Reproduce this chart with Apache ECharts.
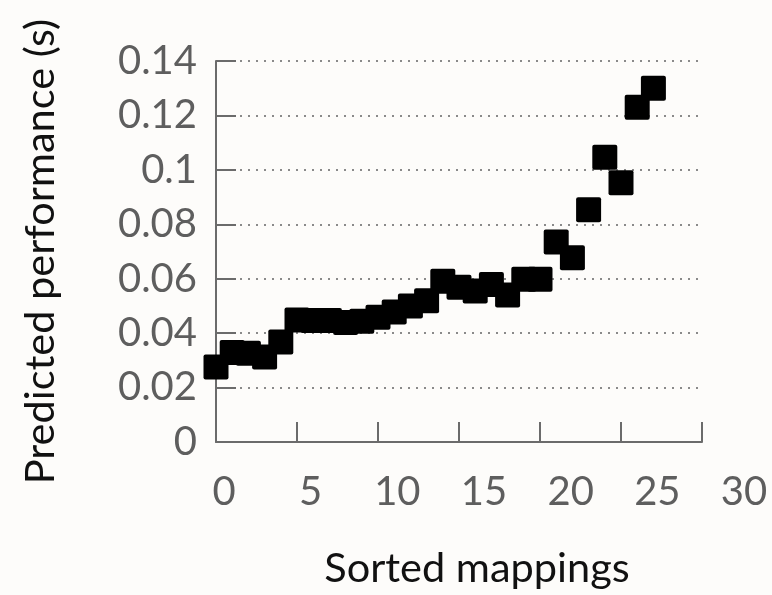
<!DOCTYPE html>
<html>
<head>
<meta charset="utf-8">
<script src="https://cdn.jsdelivr.net/npm/echarts@6/dist/echarts.min.js"></script>
<style>
html,body{margin:0;padding:0;background:#fdfcfa;}
#chart{width:772px;height:595px;}
</style>
</head>
<body>
<div id="chart"></div>
<script>
const mappingIndex = [0,1,2,3,4,5,6,7,8,9,10,11,12,13,14,15,16,17,18,19,20,21,22,23,24,25,26,27];
const predictedPerf = [0.0276,0.0329,0.0326,0.0312,0.0367,0.0448,0.0446,0.0446,0.0439,0.0444,0.0458,0.0478,0.0500,0.0519,0.0591,0.0569,0.0555,0.0579,0.0540,0.0598,0.0598,0.0735,0.0677,0.0853,0.1046,0.0953,0.1230,0.1300];
const xTicks = {min:0, max:30, interval:5};
const yTicks = {min:0, max:0.14, interval:0.02};

const FONT = 'Lato';
const AXIS_GRAY = '#6b6b6b';
const SQUARE = 'path://M2,0 H23 Q25,0 25,2 V23 Q25,25 23,25 H2 Q0,25 0,23 V2 Q0,0 2,0 Z';
const chart = echarts.init(document.getElementById('chart'), null, {renderer:'canvas'});
chart.setOption({
  backgroundColor:'#fdfcfa',
  animation:false,
  grid:[
    {left:216, right:70, top:61, bottom:153},
    {left:224, right:28, top:61, bottom:153}
  ],
  xAxis:[{
    type:'value', gridIndex:0, min:xTicks.min, max:xTicks.max, interval:xTicks.interval,
    axisLine:{show:true, onZero:false, lineStyle:{color:AXIS_GRAY, width:2}},
    axisTick:{show:true, inside:true, length:20, lineStyle:{color:AXIS_GRAY, width:2}},
    axisLabel:{show:false},
    splitLine:{show:false},
    name:'Sorted mappings', nameLocation:'middle', nameGap:106,
    nameTextStyle:{fontFamily:FONT, fontSize:41.5, color:'#111', padding:[0,0,0,36]}
  },{
    type:'value', gridIndex:1, min:xTicks.min, max:xTicks.max, interval:xTicks.interval,
    axisLine:{show:false}, axisTick:{show:false}, splitLine:{show:false},
    axisLabel:{show:true, margin:30, fontFamily:FONT, fontSize:40, color:'#5e5e5e', lineHeight:40}
  }],
  yAxis:[{
    type:'value', gridIndex:0, min:yTicks.min, max:yTicks.max, interval:yTicks.interval,
    axisLine:{show:true, lineStyle:{color:AXIS_GRAY, width:2}},
    axisTick:{show:true, inside:true, length:20, lineStyle:{color:AXIS_GRAY, width:2}},
    axisLabel:{show:true, margin:19, fontFamily:FONT, fontSize:40, color:'#5e5e5e'},
    splitLine:{show:true, lineStyle:{color:'#8a8a8a', width:2, type:[2,6]}},
    name:'Predicted performance (s)', nameLocation:'middle', nameGap:154,
    nameTextStyle:{fontFamily:FONT, fontSize:41.5, color:'#111'}
  },{
    type:'value', gridIndex:1, show:false, min:yTicks.min, max:yTicks.max
  }],
  series:[{
    type:'scatter', xAxisIndex:0, yAxisIndex:0,
    data: mappingIndex.map((x,i)=>[x, predictedPerf[i]]),
    symbol:SQUARE, symbolSize:25, clip:false,
    itemStyle:{color:'#000', opacity:1}
  }]
});
</script>
</body>
</html>
